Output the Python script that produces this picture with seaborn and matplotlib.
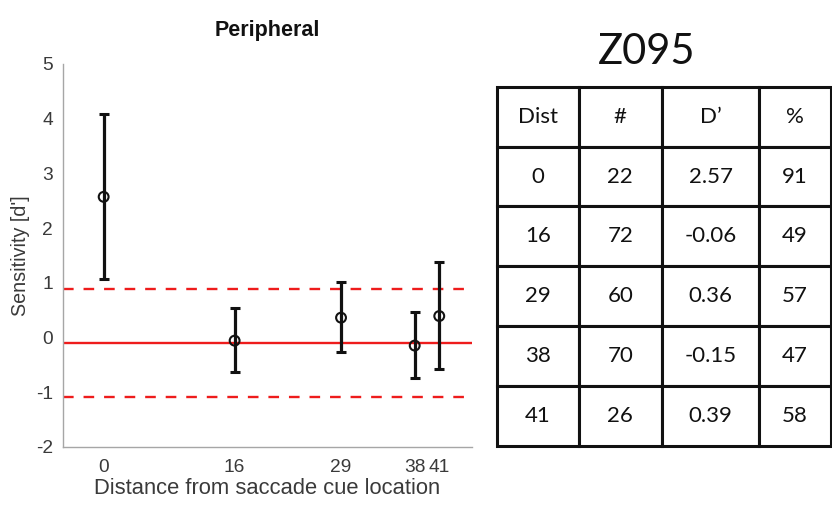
import matplotlib
matplotlib.use("Agg")
import matplotlib.pyplot as plt
import seaborn as sns
import pandas as pd

# ---- data ----
dist = [0, 16, 29, 38, 41]
dprime = [2.57, -0.06, 0.36, -0.15, 0.39]
ci_upper = [4.08, 0.53, 1.01, 0.46, 1.37]
ci_lower = [1.07, -0.63, -0.27, -0.74, -0.58]
counts = [22, 72, 60, 70, 26]
percent = [91, 49, 57, 47, 58]
dprime_table = ["2.57", "-0.06", "0.36", "-0.15", "0.39"]
null_mean = -0.10
null_upper = 0.89
null_lower = -1.09
yticks = [-2, -1, 0, 1, 2, 3, 4, 5]
table_header = ["Dist", "#", "D\u2019", "%"]
subject = "Z095"

df = pd.DataFrame({"dist": dist, "dprime": dprime,
                   "lo": ci_lower, "hi": ci_upper})

sns.set_theme(style="white")
plt.rcParams["font.family"] = ["Liberation Sans", "DejaVu Sans"]

fig = plt.figure(figsize=(8.32, 5.05), dpi=100)
ax = fig.add_axes([0.0754, 0.1154, 0.4919, 0.7579])

red = "#ee1c1c"
ax.axhline(null_mean, color=red, lw=1.7, zorder=1)
ax.axhline(null_upper, color=red, lw=1.7, ls=(0, (4.5, 4.2)), zorder=1)
ax.axhline(null_lower, color=red, lw=1.7, ls=(0, (4.5, 4.2)), zorder=1)

yerr = [df["dprime"] - df["lo"], df["hi"] - df["dprime"]]
ax.errorbar(df["dist"], df["dprime"], yerr=yerr, fmt="none",
            ecolor="#111111", elinewidth=2.3, capsize=3.6, capthick=2.2,
            zorder=3)
sns.scatterplot(data=df, x="dist", y="dprime", ax=ax, s=50,
                facecolor="none", edgecolor="#111111", linewidth=1.5,
                marker="o", zorder=4)

ax.set_xlim(-5, 45)
ax.set_ylim(-2, 5)
ax.set_xticks(dist)
ax.set_xticklabels([str(d) for d in dist])
ax.set_yticks(yticks)
ax.set_yticklabels([str(t) for t in yticks])

for s in ["top", "right"]:
    ax.spines[s].set_visible(False)
for s in ["left", "bottom"]:
    ax.spines[s].set_color("#a6a6a6")
    ax.spines[s].set_linewidth(1.0)
ax.tick_params(axis="both", direction="in", length=3, width=0.8,
               color="#a6a6a6", labelcolor="#3a3a3a", labelsize=13.8)
ax.tick_params(axis="y", pad=7)
ax.tick_params(axis="x", pad=9)
ax.set_xlabel("Distance from saccade cue location", fontsize=15.8,
              color="#3a3a3a", labelpad=1)
ax.set_ylabel("Sensitivity [d']", fontsize=14.2, color="#3a3a3a")
ax.yaxis.set_label_coords(-0.08, 0.5)
ax.set_title("Peripheral", fontsize=15.5, fontweight="bold", color="#111111",
             pad=20)

# ---- table ----
fig.text(0.7773, 0.897, subject, ha="center", va="center",
         fontsize=30, family=["Lato", "DejaVu Sans"], color="#111111")

tax = fig.add_axes([0.597, 0.1168, 0.4018, 0.7115])
tax.axis("off")
rows = [[str(d), str(c), v, str(p)]
        for d, c, v, p in zip(dist, counts, dprime_table, percent)]
col_w = [82.3, 83.3, 97.7, 72.0]
tot = sum(col_w)
tbl = tax.table(cellText=rows, colLabels=table_header,
                colWidths=[w / tot for w in col_w],
                cellLoc="center", bbox=[0, 0, 1, 1])
tbl.auto_set_font_size(False)
for (r, c), cell in tbl.get_celld().items():
    cell.set_edgecolor("#111111")
    cell.set_linewidth(2.2)
    cell.set_facecolor("white")
    cell.get_text().set_fontsize(16)
    cell.get_text().set_family(["Lato", "DejaVu Sans"])
    cell.get_text().set_color("#111111")

fig.savefig("out.png", dpi=100, facecolor="white")
